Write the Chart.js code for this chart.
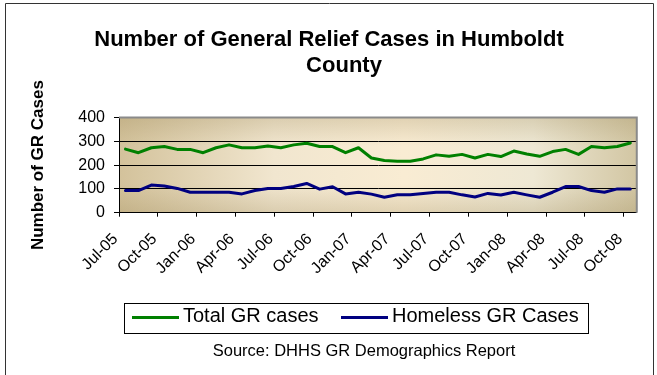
<!DOCTYPE html>
<html>
<head>
<meta charset="utf-8">
<script src="https://cdn.jsdelivr.net/npm/chart.js@4.4.1/dist/chart.umd.min.js"></script>
<style>
  html, body { margin: 0; padding: 0; background: #fff; }
</style>
</head>
<body>
<canvas id="grChart" width="657" height="375"></canvas>
<script>
const months = [
  'Jul-05', 'Aug-05', 'Sep-05', 'Oct-05', 'Nov-05', 'Dec-05',
  'Jan-06', 'Feb-06', 'Mar-06', 'Apr-06', 'May-06', 'Jun-06',
  'Jul-06', 'Aug-06', 'Sep-06', 'Oct-06', 'Nov-06', 'Dec-06',
  'Jan-07', 'Feb-07', 'Mar-07', 'Apr-07', 'May-07', 'Jun-07',
  'Jul-07', 'Aug-07', 'Sep-07', 'Oct-07', 'Nov-07', 'Dec-07',
  'Jan-08', 'Feb-08', 'Mar-08', 'Apr-08', 'May-08', 'Jun-08',
  'Jul-08', 'Aug-08', 'Sep-08', 'Oct-08'
];
const totalCases = [
  267, 252, 273, 278, 266, 266, 252, 273, 285, 273, 273, 280,
  273, 285, 292, 278, 278, 252, 273, 230, 219, 216, 216, 226,
  243, 237, 245, 230, 245, 236, 259, 247, 237, 257, 266, 245,
  278, 273, 278, 293
];
const homelessCases = [
  93, 93, 116, 112, 102, 86, 86, 86, 86, 79, 93, 102,
  102, 110, 123, 99, 109, 79, 86, 78, 65, 75, 75, 81,
  86, 86, 75, 66, 81, 74, 86, 75, 65, 86, 110, 110,
  93, 86, 100, 100
];
const yTicks = [0, 100, 200, 300, 400];

const FONT = "'Liberation Sans', Arial, sans-serif";
Chart.defaults.font.family = FONT;
Chart.defaults.color = '#000';

// plot background, frame, heading, legend box and source line
const decorations = {
  id: 'decorations',
  beforeDraw(chart) {
    const { ctx, chartArea: a } = chart;
    ctx.save();
    const h = ctx.createLinearGradient(a.left, 0, a.right, 0);
    h.addColorStop(0, '#d3c29b');
    h.addColorStop(0.3, '#f1e6cf');
    h.addColorStop(0.55, '#f9ecd3');
    h.addColorStop(0.8, '#eee8d4');
    h.addColorStop(1, '#d2c6a3');
    ctx.fillStyle = h;
    ctx.fillRect(a.left, a.top, a.right - a.left, a.bottom - a.top);
    const v = ctx.createLinearGradient(0, a.top, 0, a.bottom);
    v.addColorStop(0, 'rgba(150,130,80,0.25)');
    v.addColorStop(0.3, 'rgba(150,130,80,0)');
    v.addColorStop(0.7, 'rgba(150,130,80,0)');
    v.addColorStop(1, 'rgba(150,130,80,0.25)');
    ctx.fillStyle = v;
    ctx.fillRect(a.left, a.top, a.right - a.left, a.bottom - a.top);
    ctx.restore();
  },
  beforeDatasetsDraw(chart) {
    const { ctx, chartArea: a } = chart;
    ctx.save();
    ctx.strokeStyle = '#8a8a8a';
    ctx.lineWidth = 2;
    ctx.beginPath();
    ctx.moveTo(a.left, a.top);
    ctx.lineTo(a.right, a.top);
    ctx.lineTo(a.right, a.bottom);
    ctx.stroke();
    ctx.restore();
  },
  afterDraw(chart) {
    const { ctx } = chart;
    ctx.save();
    // outer border
    ctx.strokeStyle = '#333';
    ctx.lineWidth = 1;
    ctx.beginPath();
    ctx.moveTo(5.5, 380);
    ctx.lineTo(5.5, 3.5);
    ctx.lineTo(653.5, 3.5);
    ctx.lineTo(653.5, 380);
    ctx.stroke();

    // heading
    ctx.fillStyle = '#000';
    ctx.textAlign = 'center';
    ctx.textBaseline = 'alphabetic';
    ctx.font = 'bold 22px ' + FONT;
    ctx.fillText('Number of General Relief Cases in Humboldt', 329, 45.5);
    ctx.fillText('County', 344, 71.5);

    // legend
    ctx.strokeStyle = '#000';
    ctx.strokeRect(124.5, 303.5, 464, 30);
    ctx.lineWidth = 3;
    const items = [
      { x: 132, text: 'Total GR cases', color: '#008000' },
      { x: 341, text: 'Homeless GR Cases', color: '#000080' }
    ];
    ctx.font = '20px ' + FONT;
    ctx.textAlign = 'left';
    items.forEach(it => {
      ctx.strokeStyle = it.color;
      ctx.beginPath();
      ctx.moveTo(it.x, 317.5);
      ctx.lineTo(it.x + 47, 317.5);
      ctx.stroke();
      ctx.fillText(it.text, it.x + 51, 322);
    });

    // source line
    ctx.textAlign = 'center';
    ctx.font = '16.5px ' + FONT;
    ctx.fillText('Source: DHHS GR Demographics Report', 364, 356);
    ctx.restore();
  }
};

new Chart(document.getElementById('grChart'), {
  type: 'line',
  data: {
    labels: months,
    datasets: [
      {
        label: 'Total GR cases',
        data: totalCases,
        borderColor: '#008000',
        backgroundColor: '#008000',
        borderWidth: 3,
        pointRadius: 0,
        tension: 0,
        borderJoinStyle: 'round',
        borderCapStyle: 'round'
      },
      {
        label: 'Homeless GR Cases',
        data: homelessCases,
        borderColor: '#000080',
        backgroundColor: '#000080',
        borderWidth: 3,
        pointRadius: 0,
        tension: 0,
        borderJoinStyle: 'round',
        borderCapStyle: 'round'
      }
    ]
  },
  options: {
    responsive: false,
    animation: false,
    devicePixelRatio: 1,
    layout: { padding: { top: 117.5, right: 10, left: 0, bottom: 0 } },
    plugins: {
      legend: { display: false },
      title: { display: false },
      tooltip: { enabled: false }
    },
    scales: {
      x: {
        offset: true,
        afterFit: (scale) => { scale.height = 375 - 212.7; },
        grid: {
          offset: true,
          drawOnChartArea: false,
          drawTicks: true,
          tickLength: 4,
          tickColor: (ctx) => (ctx.index % 3 === 0 ? '#000' : 'rgba(0,0,0,0)')
        },
        border: { color: '#000', width: 1 },
        ticks: {
          autoSkip: false,
          minRotation: 45,
          maxRotation: 45,
          labelOffset: -10,
          padding: 13,
          font: { size: 16 },
          color: '#000',
          callback: function (value, index) {
            return index % 3 === 0 ? this.getLabelForValue(value) : '';
          }
        }
      },
      y: {
        min: 0,
        max: 400,
        afterFit: (scale) => { scale.width = 119; },
        afterBuildTicks: (scale) => { scale.ticks = yTicks.map(v => ({ value: v })); },
        grid: { color: '#000', lineWidth: 1, tickLength: 5, tickColor: '#000' },
        border: { color: '#000', width: 1 },
        ticks: { padding: 9, font: { size: 16 }, color: '#000' },
        title: {
          display: true,
          text: 'Number of GR Cases',
          font: { size: 17, weight: 'bold' },
          color: '#000',
          padding: { top: 28, bottom: 0 }
        }
      }
    }
  },
  plugins: [decorations]
});
</script>
</body>
</html>
